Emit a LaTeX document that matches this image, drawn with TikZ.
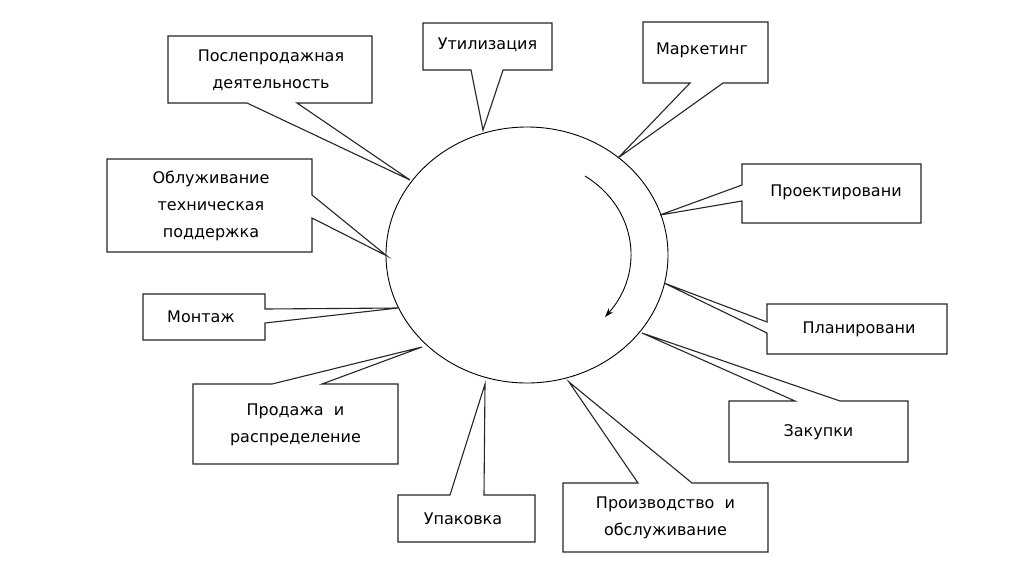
\documentclass[tikz,border=0pt]{standalone}
\usepackage{fontspec}
\setmainfont{DejaVu Sans}
\usetikzlibrary{calc,arrows.meta}
\begin{document}
\begin{tikzpicture}[x=1pt,y=-1pt,
  lbl/.style={inner sep=0pt,align=center,font=\fontsize{16}{27}\selectfont},
  callout/.style={draw=black!85,line width=1.1pt,line join=miter,fill=white},
  ring/.style={draw=black,line width=0.9pt},
  turn/.style={draw=black,line width=0.9pt,-{Stealth[length=9pt,width=6pt]}}]
\useasboundingbox[fill=white] (0,0) rectangle (1024,574);
% central circle
\coordinate (c) at (527,255);
\draw[ring] (c) ellipse [x radius=141,y radius=128];
% tips on circle
\coordinate (t1) at (410,180);
\coordinate (t2) at (483,130);
\coordinate (t3) at (618,158);
\coordinate (t4) at (387,256);
\coordinate (t5) at (398,308);
\coordinate (t6) at (660,215);
\coordinate (t7) at (664,283);
\coordinate (t8) at (642,333);
\coordinate (t9) at (569,382);
\coordinate (t10) at (485,384);
\coordinate (t11) at (422,347);
% callout boxes
\draw[callout] (168,36) -- (372,36) -- (372,103) -- (297,103) -- (t1) -- (247,103) -- (168,103) -- cycle;
\node[lbl] (n1) at (271,70) {Послепродажная\\деятельность};
\draw[callout] (423,23) -- (552,23) -- (552,70) -- (503,70) -- (t2) -- (471,70) -- (423,70) -- cycle;
\node[lbl] (n2) at (487.5,45) {Утилизация};
\draw[callout] (643,22) -- (768,22) -- (768,83) -- (723,83) -- (t3) -- (690,83) -- (643,83) -- cycle;
\node[lbl] (n3) at (702,50) {Маркетинг};
\draw[callout] (107,159) -- (312,159) -- (312,195) -- (t4) -- (312,218) -- (312,252) -- (107,252) -- cycle;
\node[lbl] (n4) at (211,206) {Облуживание\\техническая\\поддержка};
\draw[callout] (143,294) -- (265,294) -- (265,309) -- (t5) -- (265,323) -- (265,340) -- (143,340) -- cycle;
\node[lbl] (n5) at (201,317) {Монтаж};
\draw[callout] (742,164) -- (921,164) -- (921,223) -- (742,223) -- (742,201) -- (t6) -- (742,185) -- cycle;
\node[lbl] (n6) at (836,192) {Проектировани};
\draw[callout] (767,304) -- (947,304) -- (947,354) -- (767,354) -- (767,333) -- (t7) -- (767,322) -- cycle;
\node[lbl] (n7) at (859,329) {Планировани};
\draw[callout] (729,401) -- (795,401) -- (t8) -- (840,401) -- (908,401) -- (908,462) -- (729,462) -- cycle;
\node[lbl] (n8) at (818.5,432) {Закупки};
\draw[callout] (563,483) -- (638,483) -- (t9) -- (692,483) -- (768,483) -- (768,552) -- (563,552) -- cycle;
\node[lbl] (n9) at (665.5,518) {Производство\ \ и\\обслуживание};
\draw[callout] (398,495) -- (450,495) -- (t10) -- (484,495) -- (535,495) -- (535,542) -- (398,542) -- cycle;
\node[lbl] (n10) at (463,519) {Упаковка};
\draw[callout] (193,384) -- (272,384) -- (t11) -- (322,384) -- (398,384) -- (398,464) -- (193,464) -- cycle;
\node[lbl] (n11) at (295.5,425) {Продажа\ \ и\\распределение};
% rotation arrow
\coordinate (r1) at (585,176);
\coordinate (r2) at (605,317);
\draw[turn] (r1) .. controls (637,208) and (645,272) .. (r2);
\end{tikzpicture}
\end{document}
